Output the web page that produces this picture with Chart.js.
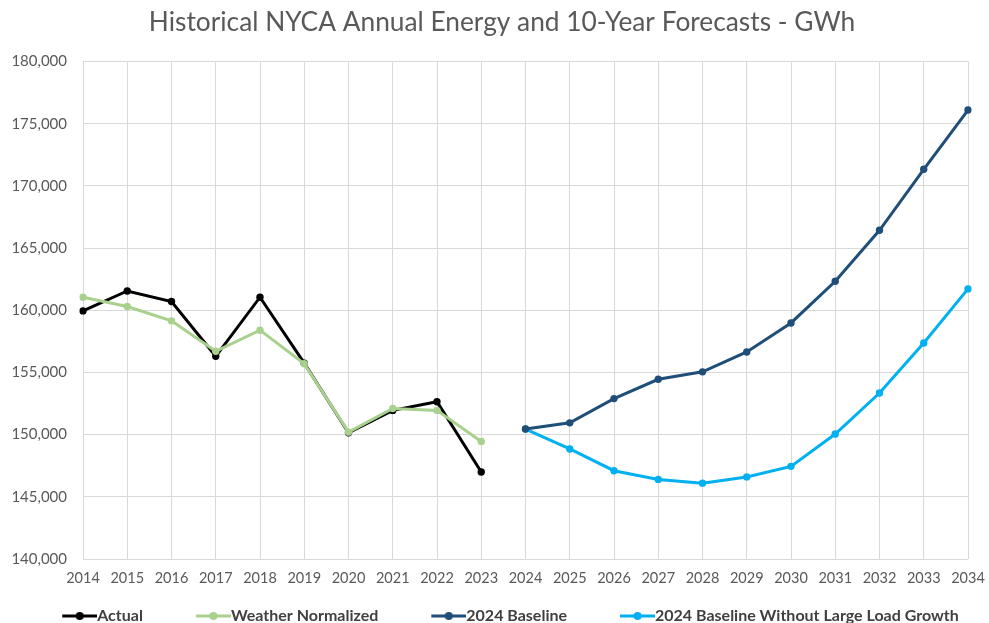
<!DOCTYPE html>
<html>
<head>
<meta charset="utf-8">
<script src="https://cdn.jsdelivr.net/npm/chart.js@4.4.1/dist/chart.umd.min.js"></script>
<style>
    html, body { margin: 0; padding: 0; background: #ffffff; }
    #wrap { width: 989px; height: 623px; position: relative; }
</style>
</head>
<body>
<div id="wrap"><canvas id="EnergyChart"></canvas></div>
<script>
var years = ["2014", "2015", "2016", "2017", "2018", "2019", "2020", "2021", "2022", "2023", "2024",
    "2025", "2026", "2027", "2028", "2029", "2030", "2031", "2032", "2033", "2034"];

var actual = [159950, 161550, 160700, 156300, 161050, 155750, 150150, 151950, 152650, 147000,
    null, null, null, null, null, null, null, null, null, null, null];

var weatherNormalized = [161050, 160300, 159150, 156700, 158400, 155700, 150200, 152100, 151950, 149450,
    null, null, null, null, null, null, null, null, null, null, null];

var baseline2024 = [null, null, null, null, null, null, null, null, null, null,
    150450, 150950, 152900, 154450, 155050, 156650, 158980, 162330, 166430, 171340, 176100];

var baselineNoLargeLoad = [null, null, null, null, null, null, null, null, null, null,
    150450, 148850, 147100, 146400, 146100, 146600, 147450, 150050, 153350, 157370, 161720];

var yMin = 140000;
var yMax = 180000;
var yStep = 5000;

var fontFamily = "Lato, 'Open Sans', sans-serif";
var legendBoxWidth = 70;

// legend marker: short line with a dot, drawn at the right end of a wider transparent image
// so the marker sits right against the label text with a wide gap before it
function legendMarker(color) {
    var c = document.createElement("canvas");
    c.width = legendBoxWidth + 16;
    c.height = 12;
    var ctx = c.getContext("2d");
    var start = c.width - 35;
    ctx.strokeStyle = color;
    ctx.lineWidth = 3;
    ctx.beginPath();
    ctx.moveTo(start, 6);
    ctx.lineTo(c.width, 6);
    ctx.stroke();
    ctx.fillStyle = color;
    ctx.beginPath();
    ctx.arc(start + 17.5, 6, 4, 0, Math.PI * 2);
    ctx.fill();
    return c;
}

function makeSeries(label, data, color, order) {
    return {
        label: label,
        data: data,
        order: order,
        borderColor: color,
        backgroundColor: color,
        borderWidth: 3,
        pointRadius: 3.7,
        pointHoverRadius: 3.7,
        pointBorderWidth: 0,
        pointBackgroundColor: color,
        pointStyle: "circle",
        legendImage: legendMarker(color),
        lineTension: 0,
        spanGaps: false,
        fill: false
    };
}

// small nudges so title and legend sit where they do in the source picture
var nudgePlugin = {
    id: "nudge",
    afterLayout: function (chart) {
        var t = chart.titleBlock;
        if (t) { t.left += 18; t.right += 18; }
        var lg = chart.legend;
        if (lg) { lg.left += 5; lg.right += 5; lg.top += 11; lg.bottom += 11; }
    }
};

var energyContext = document.getElementById("EnergyChart").getContext("2d");
var energyChart = new Chart(energyContext, {
    type: "line",
    data: {
        labels: years,
        datasets: [
            makeSeries("Actual", actual, "#000000", 1),
            makeSeries("Weather Normalized", weatherNormalized, "#A9D18E", 0),
            makeSeries("2024 Baseline", baseline2024, "#1F4E79", 2),
            makeSeries("2024 Baseline Without Large Load Growth", baselineNoLargeLoad, "#00B0F0", 3)
        ]
    },
    plugins: [nudgePlugin],
    options: {
        responsive: true,
        maintainAspectRatio: false,
        animation: false,
        layout: { padding: { left: 0, right: 21, top: 0, bottom: 0 } },
        plugins: {
            title: {
                display: true,
                text: "Historical NYCA Annual Energy and 10-Year Forecasts - GWh",
                color: "#595959",
                font: { family: fontFamily, size: 26.3, weight: "normal" },
                padding: { top: 7, bottom: 23 }
            },
            legend: {
                position: "bottom",
                labels: {
                    usePointStyle: true,
                    pointStyleWidth: legendBoxWidth,
                    padding: 10,
                    color: "#404040",
                    font: { family: fontFamily, size: 16, weight: "bold" },
                    generateLabels: function (chart) {
                        return chart.data.datasets.map(function (ds, i) {
                            return {
                                text: ds.label,
                                fillStyle: ds.borderColor,
                                strokeStyle: ds.borderColor,
                                fontColor: "#404040",
                                lineWidth: 0,
                                pointStyle: ds.legendImage,
                                hidden: false,
                                datasetIndex: i
                            };
                        });
                    }
                }
            },
            tooltip: { enabled: false }
        },
        scales: {
            x: {
                offset: false,
                grid: { color: "#d9d9d9", lineWidth: 1, drawTicks: false },
                border: { display: false },
                ticks: {
                    color: "#595959",
                    font: { family: fontFamily, size: 14.5 },
                    padding: 11,
                    maxRotation: 0,
                    autoSkip: false
                },
                afterFit: function (scale) {
                    scale.height = 28;
                    scale.paddingRight = 0;
                    scale.paddingLeft = 0;
                }
            },
            y: {
                min: yMin,
                max: yMax,
                grid: { color: "#d9d9d9", lineWidth: 1, drawTicks: false },
                border: { display: false },
                ticks: {
                    stepSize: yStep,
                    color: "#595959",
                    font: { family: fontFamily, size: 15 },
                    padding: 16,
                    callback: function (value) { return value.toLocaleString("en-US"); }
                },
                afterFit: function (scale) { scale.width = 83; }
            }
        }
    }
});
</script>
</body>
</html>
